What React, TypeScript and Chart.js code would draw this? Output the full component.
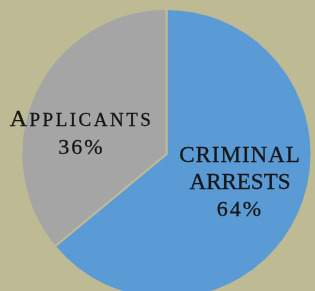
import React, { useEffect, useRef } from "react";
import { Chart, registerables } from "chart.js";

Chart.register(...registerables);

const categories = ["Criminal Arrests", "Applicants"];
const values = [64, 36];
const percentLabels = ["64%", "36%"];
const sliceColors = ["#5B9BD5", "#A5A5A5"];
const BG = "#BDBA94";

const labelPlugin = {
  id: "pieLabels",
  afterDatasetsDraw(chart: any) {
    const ctx = chart.ctx as CanvasRenderingContext2D;
    const meta = chart.getDatasetMeta(0);
    const arc0 = meta.data[0] as any;
    if (!arc0) return;
    const cx = arc0.x;
    const cy = arc0.y;
    const r = arc0.outerRadius;
    const family = '"Liberation Serif", "Times New Roman", serif';
    ctx.save();
    ctx.fillStyle = "#151515";
    ctx.strokeStyle = "#151515";
    ctx.lineWidth = 0.3;
    ctx.textBaseline = "alphabetic";
    ctx.textAlign = "left";

    type Seg = { text: string; size: number; spacing: number };
    const drawLine = (segs: Seg[], centerX: number, baseY: number) => {
      let total = 0;
      const widths: number[] = [];
      for (const s of segs) {
        ctx.font = `${s.size}px ${family}`;
        (ctx as any).letterSpacing = `${s.spacing}px`;
        const w = ctx.measureText(s.text).width;
        widths.push(w);
        total += w;
      }
      let x = centerX - total / 2;
      segs.forEach((s, i) => {
        ctx.font = `${s.size}px ${family}`;
        (ctx as any).letterSpacing = `${s.spacing}px`;
        ctx.fillText(s.text, x, baseY);
        ctx.strokeText(s.text, x, baseY);
        x += widths[i];
      });
    };

    // Applicants label (slice 1)
    const gx = cx - 0.586 * r;
    const gy = cy - 0.097 * r;
    const appName = categories[1].toUpperCase();
    drawLine(
      [
        { text: appName[0], size: 24, spacing: 2.5 },
        { text: appName.slice(1), size: 19, spacing: 2.5 },
      ],
      gx,
      gy - 14
    );
    drawLine([{ text: percentLabels[1], size: 22, spacing: 2 }], gx, gy + 14);

    // Criminal arrests label (slice 0)
    const bx = cx + 0.507 * r;
    const by = cy + 0.241 * r;
    const words = categories[0].toUpperCase().split(" ");
    drawLine([{ text: words[0], size: 23, spacing: 1 }], bx, by - 27);
    drawLine([{ text: words[1], size: 23, spacing: 0 }], bx, by);
    drawLine([{ text: percentLabels[0], size: 22, spacing: 2 }], bx, by + 27);
    ctx.restore();
  },
};

export default function App() {
  const canvasRef = useRef<HTMLCanvasElement | null>(null);

  useEffect(() => {
    document.body.style.margin = "0";
    document.body.style.background = BG;
    const canvas = canvasRef.current;
    if (!canvas) return;
    const chart = new Chart(canvas, {
      type: "pie",
      data: {
        labels: categories,
        datasets: [
          {
            data: values,
            backgroundColor: sliceColors,
            borderColor: BG,
            borderWidth: 2,
          },
        ],
      },
      options: {
        animation: false,
        responsive: false,
        maintainAspectRatio: false,
        layout: { padding: { left: 19.5, right: 1.5, top: 8, bottom: 0 } },
        plugins: {
          legend: { display: false },
          tooltip: { enabled: false },
          title: { display: false },
        },
      },
      plugins: [labelPlugin],
    });
    return () => chart.destroy();
  }, []);

  return (
    <div
      style={{
        position: "fixed",
        left: 0,
        top: 0,
        width: 315,
        height: 291,
        overflow: "hidden",
        background: BG,
      }}
    >
      <canvas ref={canvasRef} width={315} height={300} style={{ display: "block" }} />
    </div>
  );
}
